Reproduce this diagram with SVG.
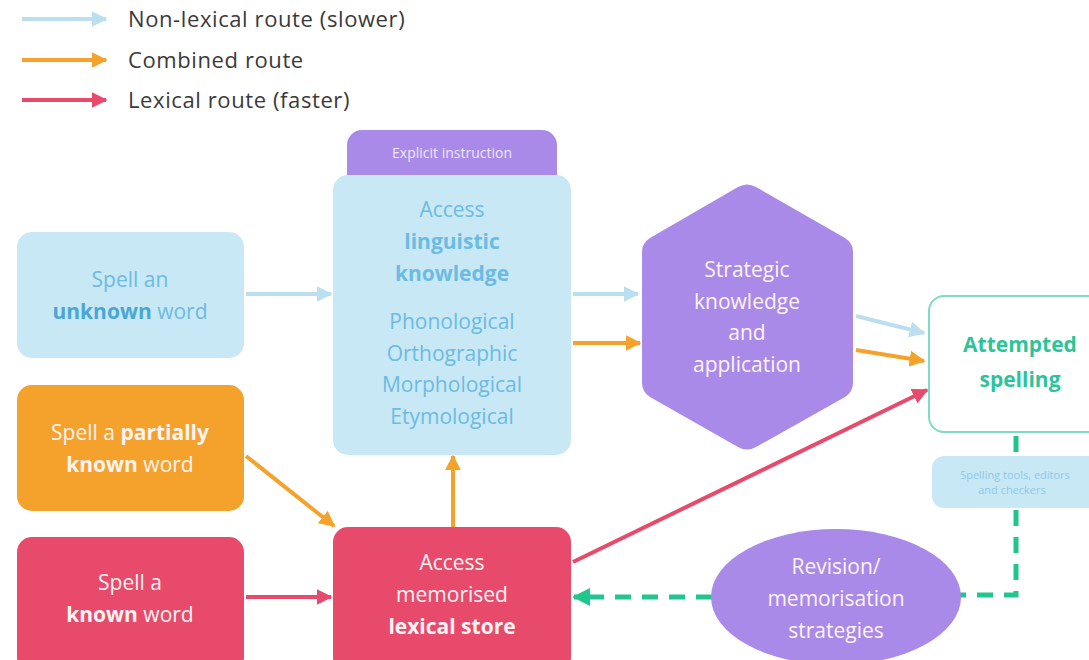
<svg xmlns="http://www.w3.org/2000/svg" width="1089" height="660" viewBox="0 0 1089 660">
<defs>
<style>
text{font-family:"Open Sans","Noto Sans",sans-serif;text-anchor:middle}
.leg{text-anchor:start;font-size:22px;letter-spacing:0.6px;fill:#3a3a3a}
.lb{fill:#c8e8f5}
.or{fill:#f5a22c}
.pk{fill:#e84a6c}
.pu{fill:#a98ae8}
.tb{fill:#6cbbe2;font-size:21px}
.tw{fill:#fdf3f3;font-size:21px}
.b{font-weight:bold}
.cb{stroke:#bcdff0;stroke-width:4;fill:none}
.co{stroke:#f5a22c;stroke-width:4;fill:none}
.cp{stroke:#e84a6c;stroke-width:4;fill:none}
.cg{stroke:#21c58e;stroke-width:5;fill:none;stroke-dasharray:16 11}
</style>
<marker id="ab" viewBox="0 0 10 10" refX="9" refY="5" markerWidth="4" markerHeight="4" orient="auto" markerUnits="strokeWidth"><path d="M0,0L10,5L0,10z" fill="#bcdff0"/></marker>
<marker id="ao" viewBox="0 0 10 10" refX="9" refY="5" markerWidth="4" markerHeight="4" orient="auto" markerUnits="strokeWidth"><path d="M0,0L10,5L0,10z" fill="#f5a22c"/></marker>
<marker id="ap" viewBox="0 0 10 10" refX="9" refY="5" markerWidth="4" markerHeight="4" orient="auto" markerUnits="strokeWidth"><path d="M0,0L10,5L0,10z" fill="#e84a6c"/></marker>
<marker id="ag" viewBox="0 0 10 10" refX="9" refY="5" markerWidth="3.6" markerHeight="3.6" orient="auto" markerUnits="strokeWidth"><path d="M0,0L10,5L0,10z" fill="#21c58e"/></marker>
</defs>
<rect width="1089" height="660" fill="#ffffff"/>
<g id="legend">
<line x1="22" y1="19" x2="106" y2="19" class="cb" marker-end="url(#ab)"/>
<line x1="22" y1="60" x2="106" y2="60" class="co" marker-end="url(#ao)"/>
<line x1="22" y1="100" x2="106" y2="100" class="cp" marker-end="url(#ap)"/>
<text x="128" y="27" class="leg">Non-lexical route (slower)</text>
<text x="128" y="68" class="leg">Combined route</text>
<text x="128" y="108" class="leg">Lexical route (faster)</text>
</g>
<g id="connectors">
<line x1="246" y1="294" x2="331" y2="294" class="cb" marker-end="url(#ab)"/>
<line x1="573" y1="294" x2="638" y2="294" class="cb" marker-end="url(#ab)"/>
<line x1="856" y1="316" x2="924" y2="333" class="cb" marker-end="url(#ab)"/>
<line x1="573" y1="343" x2="640" y2="343" class="co" marker-end="url(#ao)"/>
<line x1="856" y1="350" x2="924" y2="361" class="co" marker-end="url(#ao)"/>
<line x1="246" y1="456" x2="334" y2="526" class="co" marker-end="url(#ao)"/>
<line x1="453" y1="527" x2="453" y2="456" class="co" marker-end="url(#ao)"/>
<line x1="246" y1="597" x2="331" y2="597" class="cp" marker-end="url(#ap)"/>
<line x1="573" y1="562" x2="927" y2="390" class="cp" marker-end="url(#ap)"/>
<line x1="1016" y1="436" x2="1016" y2="454" class="cg" stroke-dasharray="14 6"/>
<path d="M1016,510 L1016,595 L960,595" class="cg"/>
<line x1="712" y1="597" x2="574" y2="597" class="cg" marker-end="url(#ag)"/>
</g>
<g id="n-unknown">
<rect x="17" y="232" width="227" height="126" rx="15" class="lb"/>
<text x="130" y="287" class="tb">Spell an</text>
<text x="130" y="319" class="tb"><tspan class="b" fill="#4aa6d6">unknown</tspan> word</text>
</g>
<g id="n-partial">
<rect x="17" y="385" width="227" height="126" rx="15" class="or"/>
<text x="130" y="440" class="tw">Spell a <tspan class="b">partially</tspan></text>
<text x="130" y="472" class="tw"><tspan class="b">known</tspan> word</text>
</g>
<g id="n-known">
<rect x="17" y="537" width="227" height="135" rx="15" class="pk"/>
<text x="130" y="590" class="tw">Spell a</text>
<text x="130" y="622" class="tw"><tspan class="b">known</tspan> word</text>
</g>
<g id="n-linguistic">
<rect x="347" y="130" width="210" height="60" rx="15" class="pu" fill="#b08ce8"/>
<rect x="333" y="175" width="238" height="280" rx="15" class="lb"/>
<text x="452" y="158" font-size="14" fill="#efe6fb">Explicit instruction</text>
<text x="452" y="217" class="tb">Access</text>
<text x="452" y="249" class="tb b" fill="#4aa6d6">linguistic</text>
<text x="452" y="281" class="tb b" fill="#4aa6d6">knowledge</text>
<text x="452" y="329" class="tb">Phonological</text>
<text x="452" y="361" class="tb">Orthographic</text>
<text x="452" y="392" class="tb">Morphological</text>
<text x="452" y="424" class="tb">Etymological</text>
</g>
<g id="n-memorised">
<rect x="333" y="527" width="238" height="145" rx="15" class="pk"/>
<text x="452" y="570" class="tw">Access</text>
<text x="452" y="602" class="tw">memorised</text>
<text x="452" y="634" class="tw b">lexical store</text>
</g>
<g id="n-strategic">
<path d="M738,187 Q747,182 756,187 L845,238 Q853,243 853,252 L853,383 Q853,392 845,397 L756,447 Q747,452 738,447 L650,397 Q642,392 642,383 L642,252 Q642,243 650,238 Z" class="pu"/>
<text x="747" y="277" class="tw" fill="#f3ecfc">Strategic</text>
<text x="747" y="309" class="tw" fill="#f3ecfc">knowledge</text>
<text x="747" y="340" class="tw" fill="#f3ecfc">and</text>
<text x="747" y="372" class="tw" fill="#f3ecfc">application</text>
</g>
<g id="n-attempted">
<rect x="929" y="296" width="180" height="136" rx="15" fill="#ffffff" stroke="#7fdcc2" stroke-width="2"/>
<text x="1020" y="352" font-size="21" class="b" fill="#2ec49a">Attempted</text>
<text x="1020" y="387" font-size="21" class="b" fill="#2ec49a">spelling</text>
</g>
<g id="n-tools">
<rect x="932" y="456" width="180" height="52" rx="12" class="lb"/>
<text x="1015" y="479" font-size="11" fill="#8fc8e6">Spelling tools, editors</text>
<text x="1012" y="494" font-size="11" fill="#8fc8e6">and checkers</text>
</g>
<g id="n-revision">
<ellipse cx="836" cy="597" rx="125" ry="68" class="pu"/>
<text x="836" y="574" class="tw" fill="#f3ecfc">Revision/</text>
<text x="836" y="606" class="tw" fill="#f3ecfc">memorisation</text>
<text x="836" y="638" class="tw" fill="#f3ecfc">strategies</text>
</g>
</svg>
